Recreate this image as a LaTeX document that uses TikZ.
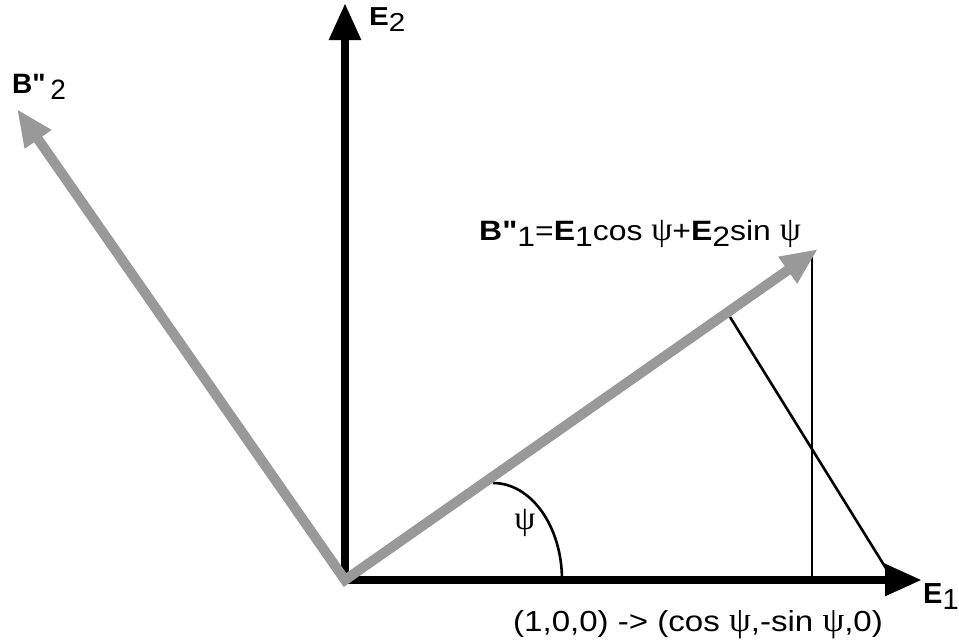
\documentclass[tikz,border=0pt]{standalone}
\usepackage{fontspec}
\setmainfont{Liberation Sans}[Ligatures=TeXOff]
\newfontfamily\widef{Liberation Sans}[FakeStretch=1.14, Ligatures=TeXOff]
\newfontfamily\symf{Liberation Serif}
\usetikzlibrary{arrows.meta}
\definecolor{arrgray}{RGB}{153,153,153}
\newcommand{\lsub}[1]{\raisebox{-6pt}{#1}}
\newcommand{\psym}{{\symf\scalebox{1.2}{ψ}}}
\begin{document}
\begin{tikzpicture}[x=1pt,y=-1pt,
  axis/.style={line width=8.5pt, -{Triangle[length=37pt,width=30pt]}},
  basis/.style={line width=10pt, draw=arrgray, {Triangle[length=37pt,width=30pt]}-{Triangle[length=37pt,width=30pt]}, line join=miter},
  thinline/.style={line width=2.6pt},
  lab/.style={inner sep=0pt, anchor=base west, font=\fontsize{28}{32}\selectfont}
]
\useasboundingbox (0,0) rectangle (959,640);
\coordinate (O) at (345,580);
\coordinate (E1t) at (922,580);
\coordinate (E2t) at (345,3);
\coordinate (B1t) at (818,249);
\coordinate (B2t) at (17,109);
\coordinate (Vtop) at (812,256);
\coordinate (Vbot) at (812,580);
\coordinate (Dtop) at (730,317);
\coordinate (Dbot) at (892,578);
\coordinate (Astart) at (562,580);
% thin lines
\draw[thinline] (Vtop) -- (Vbot);
\draw[thinline] (Dtop) -- (Dbot);
\draw[thinline] (Astart) arc[start angle=0, end angle=-90, x radius=69, y radius=97];
% axes
\draw[axis] (O) -- (E1t);
\draw[axis] (O) -- (E2t);
% rotated basis
\draw[basis] (B2t) -- (O) -- (B1t);
% labels
\node[lab, font=\widef\fontsize{26}{30}\selectfont] (lE2) at (369,25) {\textbf{E}\lsub{2}};
\node[lab, font=\fontsize{29}{32}\selectfont] (lE1) at (923,603) {\textbf{E}\lsub{1}};
\node[lab] (lB2) at (12,93) {\textbf{B"}\,\lsub{2}};
\node[lab, font=\widef\fontsize{28}{32}\selectfont] (lB1) at (479,240) {\textbf{B"}\lsub{1}=\textbf{E}\lsub{1}cos \psym+\textbf{E}\lsub{2}sin \psym};
\node[inner sep=0pt, font=\fontsize{28}{32}\selectfont] (lpsi) at (525,523) {\psym};
\node[lab, font=\widef\fontsize{29}{32}\selectfont] (lmap) at (513,631) {(1,0,0) -> (cos \psym,-sin \psym,0)};
\end{tikzpicture}
\end{document}
